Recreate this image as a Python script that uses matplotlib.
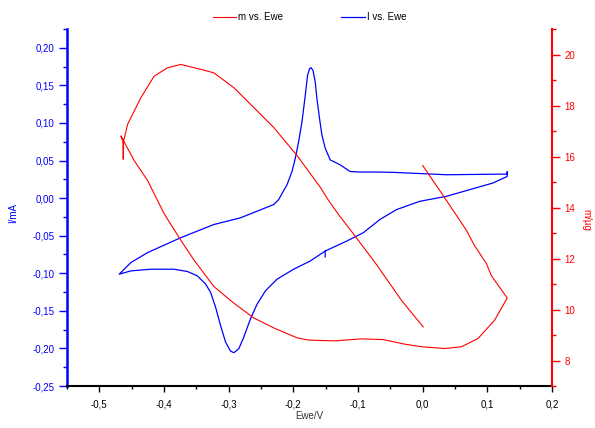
import numpy as np
import matplotlib
matplotlib.use('Agg')
import matplotlib.pyplot as plt
from matplotlib.ticker import MultipleLocator, FuncFormatter

plt.rcParams['font.family'] = ['Liberation Sans', 'DejaVu Sans']
plt.rcParams['axes.unicode_minus'] = False

# I vs. Ewe (current, mA) - closed CV loop, starts at the small glitch near -0.15 V
ewe_i = [-0.1507, -0.1507, -0.1173, -0.0917, -0.0660, -0.0402, -0.0043, 0.0368, 0.1086, 0.1308,
         0.1308, 0.1308, 0.0368, -0.0402, -0.0660, -0.0968, -0.1122, -0.1276, -0.1430, -0.1507,
         -0.1558, -0.1595, -0.1635, -0.1661, -0.1696, -0.1727, -0.1749, -0.1780, -0.1815,
         -0.1866, -0.1918, -0.1969, -0.2020, -0.2097, -0.2227, -0.2304, -0.2817, -0.3228,
         -0.3741, -0.4254, -0.4512, -0.4692,
         -0.4512, -0.4203, -0.3844, -0.3638, -0.3484, -0.3356, -0.3279, -0.3202, -0.3125,
         -0.3048, -0.2972, -0.2920, -0.2843, -0.2766, -0.2663, -0.2559, -0.2431, -0.2251,
         -0.1995, -0.1738, -0.1507]
cur_i = [-0.0780, -0.0704, -0.0571, -0.0460, -0.0284, -0.0152, -0.0042, 0.0024, 0.0201, 0.0288,
         0.0350, 0.0320, 0.0311, 0.0341, 0.0347, 0.0347, 0.0354, 0.0443, 0.0509, 0.0664,
         0.0840, 0.1061, 0.1325, 0.1545, 0.1700, 0.1735, 0.1722, 0.1634, 0.1369,
         0.1016, 0.0751, 0.0532, 0.0355, 0.0179, -0.0020, -0.0086, -0.0262, -0.0351,
         -0.0526, -0.0725, -0.0857, -0.1012,
         -0.0968, -0.0946, -0.0946, -0.0976, -0.1034, -0.1144, -0.1254, -0.1452, -0.1696,
         -0.1915, -0.2034, -0.2057, -0.2004, -0.1849, -0.1607, -0.1409, -0.1233, -0.1078,
         -0.0946, -0.0836, -0.0704]

# m vs. Ewe (mass, ug)
ewe_m = [0.0, 0.0368, 0.0676, 0.0804, 0.0985, 0.1062, 0.1308,
         0.1112, 0.0855, 0.0600, 0.0342, -0.0017, -0.0274, -0.0609, -0.0941, -0.1353,
         -0.1764, -0.1943, -0.2304, -0.2612, -0.2920, -0.3228, -0.3536, -0.3741, -0.3998,
         -0.4254, -0.4461, -0.4666, -0.4630, -0.4630, -0.4630,
         -0.4562, -0.4357, -0.4153, -0.3946, -0.3741, -0.3433, -0.3228, -0.2920, -0.2663,
         -0.2304, -0.1943, -0.1584, -0.1456, -0.1302, -0.1018, -0.0710, -0.0325, 0.0008]
mass = [15.65, 14.28, 13.11, 12.50, 11.81, 11.33, 10.45,
        9.58, 8.86, 8.54, 8.47, 8.54, 8.64, 8.82, 8.85, 8.77,
        8.80, 8.89, 9.28, 9.67, 10.25, 10.90, 11.94, 12.72, 13.76,
        15.06, 15.84, 16.81, 16.55, 15.90, 16.55,
        17.27, 18.31, 19.15, 19.48, 19.61, 19.42, 19.28, 18.70, 18.05,
        17.14, 16.04, 14.80, 14.28, 13.73, 12.79, 11.75, 10.35, 9.32]

fig = plt.figure(figsize=(5.95, 4.28), dpi=100)
ax = fig.add_axes([0.1126, 0.0981, 0.8151, 0.8341])
ax2 = ax.twinx()

l1, = ax.plot(ewe_i, cur_i, color='blue', lw=0.9, label='I vs. Ewe')
l2, = ax2.plot(ewe_m, mass, color='red', lw=0.8, label='m vs. Ewe')

ax.set_xlim(-0.55, 0.2)
ax.set_ylim(-0.25, 0.225)
ax2.set_ylim(7, 21)

ax.xaxis.set_major_locator(MultipleLocator(0.1))
ax.xaxis.set_minor_locator(MultipleLocator(0.05))
ax.yaxis.set_major_locator(MultipleLocator(0.05))
ax.yaxis.set_minor_locator(MultipleLocator(0.025))
ax2.yaxis.set_major_locator(MultipleLocator(2))
ax2.yaxis.set_minor_locator(MultipleLocator(1))

ax.xaxis.set_major_formatter(FuncFormatter(lambda v, p: f"{round(v, 1) + 0:.1f}".replace('.', ',')))
ax.yaxis.set_major_formatter(FuncFormatter(lambda v, p: f"{round(v, 2) + 0:.2f}".replace('.', ',')))

for a in (ax, ax2):
    a.spines['top'].set_visible(False)
ax.spines['right'].set_visible(False)
ax2.spines['left'].set_visible(False)
ax2.spines['bottom'].set_visible(False)
ax.spines['left'].set_color('blue')
ax.spines['left'].set_linewidth(1.8)
ax.spines['bottom'].set_color('black')
ax.spines['bottom'].set_linewidth(1.5)
ax2.spines['right'].set_color('red')
ax2.spines['right'].set_linewidth(1.5)

ax.tick_params(axis='x', which='major', length=4, width=1, pad=6, labelsize=7, colors='black')
ax.tick_params(axis='x', which='minor', length=2.5, width=1)
ax.tick_params(axis='y', which='major', length=6, width=1, pad=3, labelsize=7, colors='blue')
ax.tick_params(axis='y', which='minor', length=3, width=1, colors='blue')
ax2.tick_params(axis='y', which='major', length=6, width=1, pad=3, labelsize=7, colors='red')
ax2.tick_params(axis='y', which='minor', length=3, width=1, colors='red')

ax.set_xlabel('Ewe/V', fontsize=7, color='#333333')
ax.xaxis.set_label_coords(0.5, -0.07)
ax.set_ylabel('I/mA', fontsize=7, color='blue')
ax.yaxis.set_label_coords(-0.1, 0.485)
ax2.set_ylabel('m/µg', fontsize=7, color='red', rotation=-90, va='center')
ax2.yaxis.set_label_coords(1.072, 0.465)

fig.legend(handles=[l2, l1], loc='center', bbox_to_anchor=(0.52, 0.96), ncol=2,
           frameon=False, fontsize=7, handlelength=2.4, handletextpad=0.2,
           columnspacing=6.0)

fig.savefig('out.png', dpi=100)
